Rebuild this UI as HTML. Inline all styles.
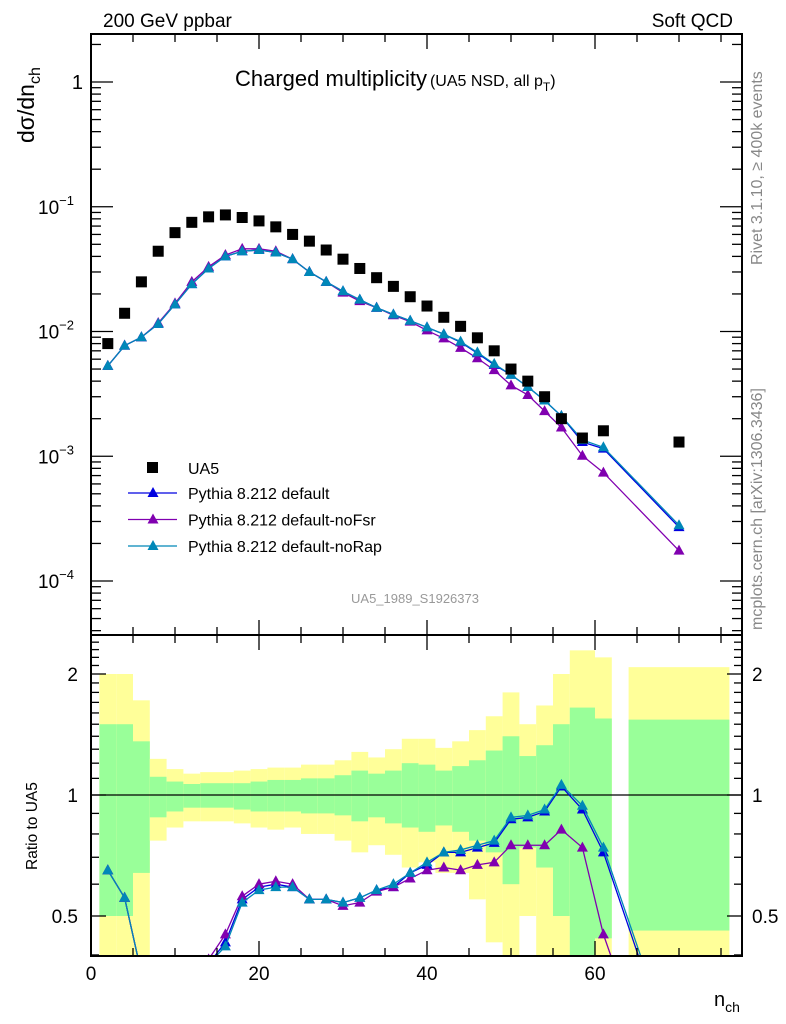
<!DOCTYPE html>
<html><head><meta charset="utf-8">
<style>
html,body{margin:0;background:#fff;overflow:hidden;width:786px;height:1024px;}
svg{display:block;font-family:"Liberation Sans",sans-serif;}
</style></head>
<body>
<svg id="c" width="786" height="1024" xmlns="http://www.w3.org/2000/svg">
<defs>
<clipPath id="clipMain"><rect x="91" y="34" width="651" height="601"/></clipPath>
<clipPath id="clipRatio"><rect x="91" y="635" width="651" height="321"/></clipPath>
</defs>
<g id="bands" clip-path="url(#clipRatio)"></g>
<g id="ratioMarks" clip-path="url(#clipRatio)"></g>
<g id="mainMarks" clip-path="url(#clipMain)"></g>
<g id="axes"></g>
<text x="103" y="27" font-size="19">200 GeV ppbar</text>
<text x="733" y="27" font-size="19" text-anchor="end">Soft QCD</text>
<text x="235" y="86" font-size="22">Charged multiplicity<tspan font-size="16" dx="3">(UA5 NSD, all p</tspan><tspan font-size="12" dy="5">T</tspan><tspan font-size="16" dy="-5">)</tspan></text>
<text x="415" y="603" font-size="13" fill="#999" text-anchor="middle">UA5_1989_S1926373</text>
<text transform="translate(762,265) rotate(-90)" font-size="16" fill="#888">Rivet 3.1.10, ≥ 400k events</text>
<text transform="translate(762,630) rotate(-90)" font-size="16" fill="#888">mcplots.cern.ch [arXiv:1306.3436]</text>
<text transform="translate(34,143) rotate(-90)" font-size="23">dσ/dn<tspan font-size="16" dy="6">ch</tspan></text>
<text transform="translate(37,870) rotate(-90)" font-size="15.5">Ratio to UA5</text>
<text x="714" y="1006" font-size="20">n<tspan font-size="14" dy="6">ch</tspan></text>
<g id="legend"></g>
</svg>
<script>
const nch=[2,4,6,8,10,12,14,16,18,20,22,24,26,28,30,32,34,36,38,40,42,44,46,48,50,52,54,56,58.5,61,70];
const ua5=[0.008,0.014,0.025,0.044,0.062,0.075,0.083,0.086,0.082,0.077,0.069,0.060,0.053,0.045,0.038,0.032,0.027,0.023,0.019,0.016,0.013,0.011,0.0089,0.0070,0.0050,0.0040,0.0030,0.0020,0.0014,0.0016,0.0013];
const pyDefault=[0.0053,0.0077,0.0090,0.0115,0.0165,0.024,0.032,0.040,0.044,0.045,0.043,0.038,0.030,0.025,0.021,0.018,0.0155,0.0137,0.0122,0.0108,0.0095,0.0082,0.0067,0.0054,0.0045,0.0036,0.0028,0.0021,0.0013,0.00115,0.00027];
const pyNoFsr=[0.0053,0.0077,0.0090,0.0117,0.0168,0.025,0.033,0.041,0.046,0.046,0.044,0.038,0.030,0.025,0.0205,0.0175,0.0155,0.0135,0.0120,0.0102,0.0088,0.0074,0.0061,0.0049,0.0037,0.0031,0.0023,0.0017,0.00101,0.00074,0.000175];
const pyNoRap=[0.0053,0.0077,0.0090,0.0115,0.0165,0.024,0.032,0.040,0.044,0.045,0.043,0.038,0.030,0.025,0.021,0.018,0.0155,0.0137,0.0122,0.0108,0.0095,0.0083,0.0068,0.0055,0.0045,0.0036,0.0028,0.0021,0.00135,0.00118,0.00028];
const ratioDefault=[0.65,0.555,0.36,0.26,0.27,0.32,0.38,0.43,0.55,0.59,0.60,0.59,0.55,0.55,0.54,0.555,0.58,0.59,0.64,0.67,0.72,0.72,0.74,0.76,0.87,0.88,0.91,1.05,0.92,0.72,0.2];
const ratioNoFsr=[0.65,0.555,0.36,0.27,0.28,0.33,0.39,0.45,0.56,0.60,0.61,0.60,0.55,0.55,0.53,0.54,0.575,0.59,0.62,0.65,0.66,0.65,0.67,0.68,0.75,0.75,0.75,0.82,0.74,0.45,0.13];
const ratioNoRap=[0.65,0.555,0.36,0.26,0.27,0.32,0.38,0.42,0.54,0.58,0.59,0.59,0.55,0.55,0.54,0.555,0.58,0.60,0.64,0.68,0.72,0.73,0.75,0.77,0.88,0.89,0.92,1.06,0.94,0.74,0.21];
const binLo=[1,3,5,7,9,11,13,15,17,19,21,23,25,27,29,31,33,35,37,39,41,43,45,47,49,51,53,55,57,60,64];
const binHi=[3,5,7,9,11,13,15,17,19,21,23,25,27,29,31,33,35,37,39,41,43,45,47,49,51,53,55,57,60,62,76];
const yelTop=[2.0,2.0,1.72,1.23,1.16,1.13,1.14,1.14,1.15,1.16,1.17,1.17,1.19,1.19,1.22,1.28,1.24,1.30,1.38,1.38,1.31,1.36,1.45,1.57,1.80,1.50,1.67,2.0,2.29,2.2,2.08];
const grnTop=[1.50,1.50,1.36,1.11,1.08,1.065,1.07,1.07,1.07,1.08,1.09,1.09,1.10,1.10,1.12,1.15,1.13,1.15,1.20,1.19,1.15,1.18,1.22,1.29,1.40,1.25,1.33,1.50,1.65,1.55,1.54];
const grnBot=[0.50,0.50,0.64,0.88,0.91,0.93,0.93,0.93,0.92,0.91,0.91,0.91,0.90,0.90,0.89,0.86,0.88,0.85,0.83,0.81,0.84,0.81,0.77,0.72,0.60,0.74,0.66,0.50,0.3,0.44,0.46];
const yelBot=[0.3,0.3,0.3,0.77,0.83,0.86,0.86,0.86,0.85,0.83,0.82,0.83,0.80,0.80,0.77,0.72,0.75,0.71,0.66,0.68,0.64,0.64,0.55,0.43,0.3,0.50,0.3,0.3,0.3,0.3,0.3];
const NS="http://www.w3.org/2000/svg";
const X=v=>91+v*8.4;
const Y=v=>82-124.75*Math.log10(v);
const R=v=>795-121*Math.log2(v);
function el(tag,attrs,parent){const e=document.createElementNS(NS,tag);for(const k in attrs)e.setAttribute(k,attrs[k]);parent.appendChild(e);return e;}
const bands=document.getElementById('bands');
for(let i=0;i<binLo.length;i++){
  const y1=el('rect',{x:X(binLo[i]),width:X(binHi[i])-X(binLo[i]),y:R(yelTop[i]),height:R(yelBot[i])-R(yelTop[i]),fill:'#ffff99'},bands);
  
  
  const g1=el('rect',{x:X(binLo[i]),width:X(binHi[i])-X(binLo[i]),y:R(grnTop[i]),height:R(grnBot[i])-R(grnTop[i]),fill:'#99ff99'},bands);
  
  
}
function tri(cx,cy,col,par){return el('polygon',{points:`${cx},${cy-6} ${cx-5.5},${cy+4} ${cx+5.5},${cy+4}`,fill:col},par);}
const series=[['pythia-default','#0000e0',pyDefault,ratioDefault],['pythia-nofsr','#8000b0',pyNoFsr,ratioNoFsr],['pythia-norap','#0088b8',pyNoRap,ratioNoRap]];
const mm=document.getElementById('mainMarks'),rm=document.getElementById('ratioMarks');
el('line',{x1:91,x2:742,y1:R(1),y2:R(1),stroke:'#000','stroke-width':1.3},rm);
for(const [nm,col,vals,rat] of series){
  const l=el('polyline',{points:nch.map((n,i)=>X(n)+','+Y(vals[i])).join(' '),fill:'none',stroke:col,'stroke-width':1.3},mm);
  
  
  const lr=el('polyline',{points:nch.map((n,i)=>X(n)+','+R(rat[i])).join(' '),fill:'none',stroke:col,'stroke-width':1.3},rm);
  
  
  nch.forEach((n,i)=>{
    const t=tri(X(n),Y(vals[i]),col,mm);
    
    
    const tr=tri(X(n),R(rat[i]),col,rm);
    
    
  });
}
nch.forEach((n,i)=>{
  const s=el('rect',{x:X(n)-5.5,y:Y(ua5[i])-5.5,width:11,height:11,fill:'#000'},mm);
  
  
});
const ax=document.getElementById('axes');
const ln=(x1,y1,x2,y2,w)=>el('line',{x1,y1,x2,y2,stroke:'#000','stroke-width':w||1.3},ax);
el('rect',{x:91,y:34,width:651,height:922,fill:'none',stroke:'#000','stroke-width':2},ax);
ln(91,635,742,635,2);
const txt=(x,y,s,a,fs)=>{const t=el('text',{x,y,'font-size':fs||19,'text-anchor':a||'middle'},ax);t.textContent=s;return t;};
for(let v=0;v<=77;v+=5){
  const L=(v%20===0)?15:8;
  ln(X(v),956,X(v),956-L);ln(X(v),635,X(v),635-L);ln(X(v),635,X(v),635+L);ln(X(v),34,X(v),34+L);
}
[0,20,40,60].forEach(v=>txt(X(v),980,String(v)));
for(let d=-5;d<=0;d++){
  for(let m=1;m<=9;m++){
    const v=m*Math.pow(10,d);const y=Y(v);
    if(y<34||y>635)continue;
    const L=m===1?22:10;
    ln(91,y,91+L,y);ln(742,y,742-L,y);
  }
}
txt(83,89,'1','end',20);
[-1,-2,-3,-4].forEach(d=>{const t=el('text',{x:38,y:Y(Math.pow(10,d))+7,'font-size':19},ax);t.textContent='10';const s=el('tspan',{'font-size':13,dy:-9},t);s.textContent='−'+(-d);});
const rt=[0.4,0.5,0.6,0.7,0.8,0.9,1,1.1,1.2,1.3,1.4,1.5,1.6,1.7,1.8,1.9,2,2.1,2.2,2.3,2.4,2.5];
rt.forEach(v=>{const y=R(v);if(y<635||y>956)return;const L=(v===0.5||v===1||v===2)?15:8;ln(91,y,91+L,y);ln(742,y,742-L,y);});
[[2,'2'],[1,'1'],[0.5,'0.5']].forEach(([v,s])=>{txt(78,R(v)+7,s,'end',19);txt(752,R(v)+7,s,'start',19);});
const lg=document.getElementById('legend');
const sq=el('rect',{x:147,y:462,width:11,height:11,fill:'#000'},lg);


const lt=el('text',{x:188,y:474,'font-size':16},lg);lt.textContent='UA5';
const labels=['Pythia 8.212 default','Pythia 8.212 default-noFsr','Pythia 8.212 default-noRap'];
series.forEach(([nm,col],i)=>{
  const y=493+i*26.5;
  el('line',{x1:128,x2:177,y1:y,y2:y,stroke:col,'stroke-width':1.3},lg);
  const t=tri(153,y,col,lg);
  
  
  const tx=el('text',{x:188,y:y+6,'font-size':16},lg);tx.textContent=labels[i];
  
  
});
</script>
</body></html>
